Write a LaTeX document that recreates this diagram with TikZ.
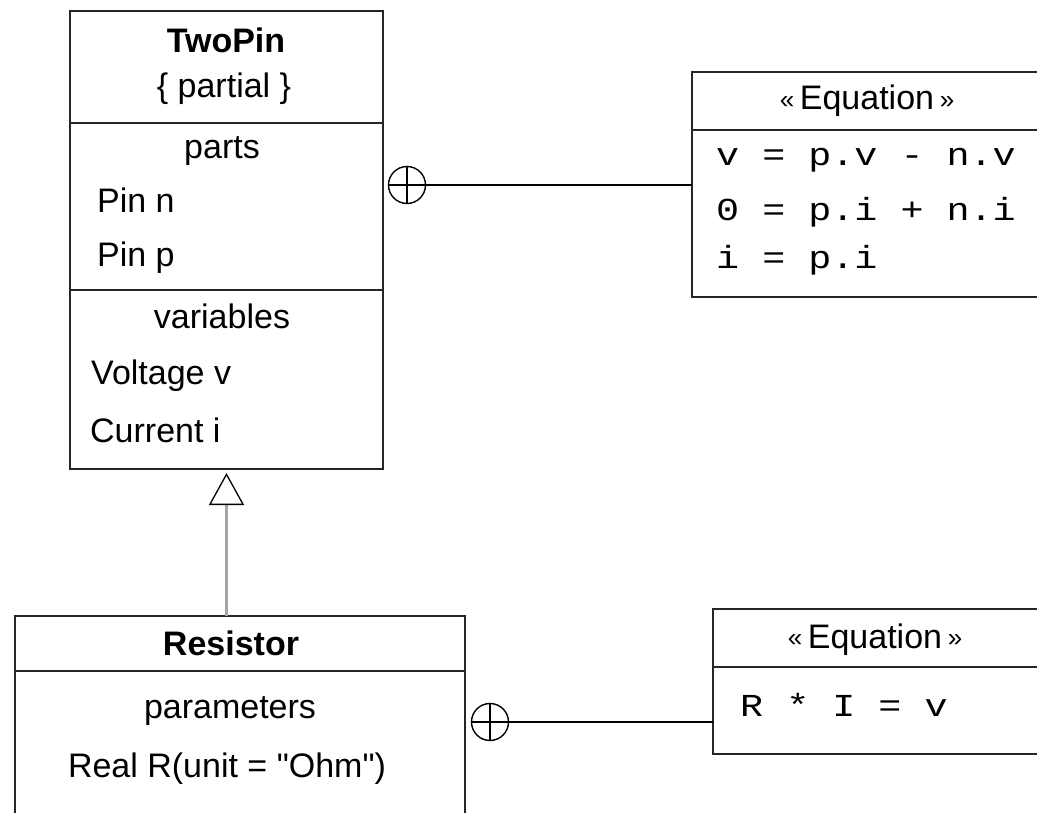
\documentclass[tikz,border=0pt]{standalone}
\usepackage{fontspec}
\setmainfont{Liberation Sans}
\setmonofont[FakeStretch=1.2]{Liberation Mono}
\usetikzlibrary{arrows.meta,positioning}

\newcommand{\guil}[1]{\raisebox{1.5pt}{\fontsize{26}{26}\selectfont#1}}
\newcommand{\stereo}[1]{\guil{«}\,#1\,\guil{»}}

\begin{document}
\begin{tikzpicture}[
    x=1pt,y=-1pt,
    box/.style={draw=black!85,line width=1.6pt,fill=none,outer sep=0pt,inner sep=0pt},
    divider/.style={draw=black!85,line width=1.6pt},
    clsname/.style={font=\fontsize{34}{40}\selectfont\bfseries,anchor=base,inner sep=0pt},
    sechead/.style={font=\fontsize{34}{40}\selectfont,anchor=base,inner sep=0pt},
    member/.style={font=\fontsize{34}{40}\selectfont,anchor=base west,inner sep=0pt},
    eqline/.style={font=\fontsize{32}{40}\selectfont\ttfamily,anchor=base west,inner sep=0pt},
    nest/.style={circle,draw=black,line width=1.4pt,minimum size=37,inner sep=0pt,outer sep=0pt},
    link/.style={draw=black,line width=1.8pt},
    inherit/.style={draw=black!35,line width=3pt,shorten >=4pt,
      -{Triangle[color=black,fill=white,length=32pt,width=35pt,line width=1.3pt]}}
  ]
    \clip (0,0) rectangle (1037,813);

    % classes
    \node[box,minimum width=313,minimum height=458] (twopin) at (226.5,240) {};
    \node[box,minimum width=450,minimum height=250] (resistor) at (240,741) {};
    \draw[divider] (twopin.west |- 0,123) -- (twopin.east |- 0,123);
    \draw[divider] (twopin.west |- 0,290) -- (twopin.east |- 0,290);
    \draw[divider] (resistor.west |- 0,671) -- (resistor.east |- 0,671);

    \node[clsname] (twopinname) at (226,53) {TwoPin};
    \node[sechead] (partial) at (224,98) {\{ partial \}};
    \node[sechead] (parts) at (222,159) {parts};
    \node[member] (pinn) at (97,213) {Pin n};
    \node[member] (pinp) at (97,267) {Pin p};
    \node[sechead] (variables) at (222,328) {variables};
    \node[member] (voltage) at (91,384) {Voltage v};
    \node[member] (current) at (90,442) {Current i};

    \node[clsname] (resistorname) at (231,655) {Resistor};
    \node[sechead] (parameters) at (230,718) {parameters};
    \node[sechead] (realr) at (227,777) {Real R(unit = \textquotedbl Ohm\textquotedbl)};

    % equation sections
    \node[box,minimum width=368,minimum height=225] (eqtwopin) at (876,184.5) {};
    \node[box,minimum width=347,minimum height=145] (eqresistor) at (886.5,681.5) {};
    \draw[divider] (eqtwopin.west |- 0,130) -- (eqtwopin.east |- 0,130);
    \draw[divider] (eqresistor.west |- 0,667) -- (eqresistor.east |- 0,667);

    \node[sechead] (eqtwopinname) at (867,110) {\stereo{Equation}};
    \node[eqline] (eqv) at (716,166) {v = p.v - n.v};
    \node[eqline] (eqzero) at (716,221) {0 = p.i + n.i};
    \node[eqline] (eqi) at (716,269) {i = p.i};

    \node[sechead] (eqresistorname) at (875,648) {\stereo{Equation}};
    \node[eqline] (eqohm) at (740,716) {R * I = v};

    % ownership
    \node[nest] (owntwopin) at (407,185) {};
    \node[nest] (ownresistor) at (490,722) {};
    \draw[link] (owntwopin.north) -- (owntwopin.south) (owntwopin.west) -- (owntwopin.east);
    \draw[link] (ownresistor.north) -- (ownresistor.south) (ownresistor.west) -- (ownresistor.east);
    \draw[link] (owntwopin.east) -- (owntwopin.east -| eqtwopin.west);
    \draw[link] (ownresistor.east) -- (ownresistor.east -| eqresistor.west);

    % generalization
    \draw[inherit] (resistor.north -| twopin.south) -- (twopin.south);
  \end{tikzpicture}
\end{document}
